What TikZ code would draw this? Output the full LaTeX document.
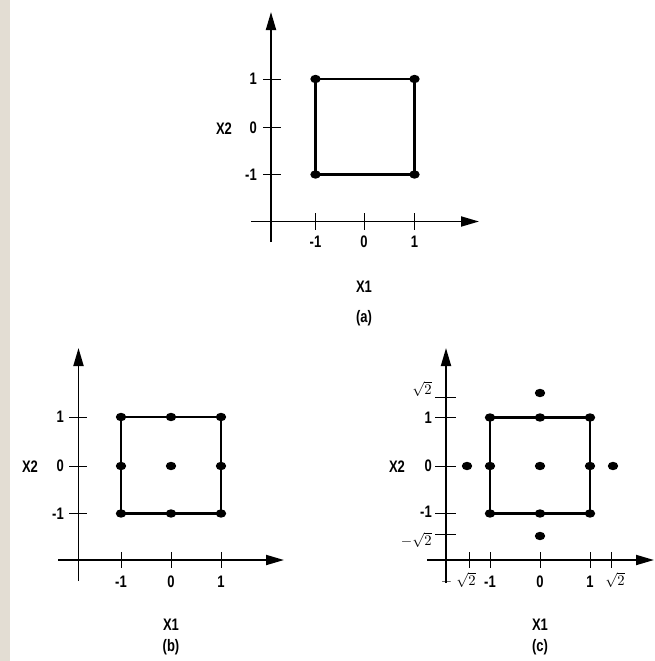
\documentclass[tikz,border=0pt]{standalone}
\usepackage{fontspec}
\usetikzlibrary{arrows.meta,shapes.geometric}
\newfontfamily\lblfont{Liberation Sans}[FakeStretch=0.78]
\definecolor{strip}{RGB}{227,221,211}
\tikzset{
  axis/.style={line width=1.4pt, -{Triangle[length=13.5pt,width=7.5pt]}},
  tick/.style={line width=0.7pt},
  sqline/.style={line width=1.6pt},
  dot/.style={ellipse, fill=black, inner sep=0pt, minimum width=7.8pt, minimum height=6.3pt},
  lbl/.style={font=\lblfont\bfseries\fontsize{12.5}{14}\selectfont, inner sep=0pt},
  ylbl/.style={lbl, anchor=east},
  mlbl/.style={inner sep=0pt, font=\fontsize{11}{13}\selectfont},
}
\begin{document}
\begin{tikzpicture}[x=0.75pt,y=-0.75pt]
\useasboundingbox (0,0) rectangle (655,661);
\fill[white] (0,0) rectangle (655,661);
\fill[strip] (0,0) rectangle (10,661);

% ---------------- panel (a) ----------------
\coordinate (ayb) at (271,242); \coordinate (ayt) at (271,12);
\coordinate (axl) at (251,221.5); \coordinate (axr) at (479,221.5);
\draw[axis] (ayb) -- (ayt);
\draw[axis] (axl) -- (axr);
\foreach \x/\t [count=\i] in {315.5/-1,364/0,414.5/1}{
  \draw[tick] (\x,213) -- (\x,229.5);
  \node[lbl] (axt\i) at (\x,242) {\t};
}
\foreach \y/\t [count=\i] in {79/1,127.5/0,174.5/-1}{
  \draw[tick] (263,\y) -- (281,\y);
  \node[ylbl] (ayt\i) at (257,\y) {\t};
}
\node[lbl] (ax2) at (224,129) {X2};
\node[lbl] (ax1) at (364,287) {X1};
\node[lbl] (acap) at (364,318) {(a)};
\node[dot] (a1) at (315.5,79) {};
\node[dot] (a2) at (414.5,79) {};
\node[dot] (a3) at (414.5,174.5) {};
\node[dot] (a4) at (315.5,174.5) {};
\draw[sqline] (a1.center) -- (a2.center) -- (a3.center) -- (a4.center) -- cycle;

% ---------------- panel (b) ----------------
\coordinate (byb) at (78.5,581); \coordinate (byt) at (78.5,348);
\coordinate (bxl) at (58,560); \coordinate (bxr) at (284,560);
\draw[axis] (byb) -- (byt);
\draw[axis] (bxl) -- (bxr);
\foreach \x/\t [count=\i] in {121/-1,171/0,221/1}{
  \draw[tick] (\x,552) -- (\x,568);
  \node[lbl] (bxt\i) at (\x,582) {\t};
}
\foreach \y/\t [count=\i] in {417/1,466/0,513.5/-1}{
  \draw[tick] (69,\y) -- (87,\y);
  \node[ylbl] (byt\i) at (64,\y) {\t};
}
\node[lbl] (bx2) at (30,467) {X2};
\node[lbl] (bx1) at (171,625) {X1};
\node[lbl] (bcap) at (171,647) {(b)};
\foreach \x [count=\i] in {121,171,221}{
  \foreach \y [count=\j] in {417,466,513.5}{
    \node[dot] (b\i\j) at (\x,\y) {};
  }
}
\draw[sqline] (b11.center) -- (b31.center) -- (b33.center) -- (b13.center) -- cycle;

% ---------------- panel (c) ----------------
\coordinate (cyb) at (446,583); \coordinate (cyt) at (446,348);
\coordinate (cxl) at (427,560); \coordinate (cxr) at (654,560);
\draw[axis] (cyb) -- (cyt);
\draw[axis] (cxl) -- (cxr);
\foreach \x [count=\i] in {469,490,540,590,611.5}{
  \draw[tick] (\x,552) -- (\x,568);
}
\node[mlbl] (cxs1) at (466,580) {$\sqrt{2}$};
\node[mlbl] (cxm1) at (446.5,582) {$-$};
\node[lbl] (cxt2) at (490,582) {-1};
\node[lbl] (cxt3) at (540,582) {0};
\node[lbl] (cxt4) at (590,582) {1};
\node[mlbl] (cxt5) at (615,580) {$\sqrt{2}$};
\foreach \y [count=\i] in {397,417.5,466,513.5,534}{
  \draw[tick] (435,\y) -- (456,\y);
}
\node[mlbl, anchor=east] (cyt1) at (432,389) {$\sqrt{2}$};
\node[ylbl] (cyt2) at (432,417.5) {1};
\node[ylbl] (cyt3) at (432,466) {0};
\node[ylbl] (cyt4) at (432,512) {-1};
\node[mlbl, anchor=east] (cyt5) at (432,540) {$-\sqrt{2}$};
\node[lbl] (cx2) at (397,467) {X2};
\node[lbl] (cx1) at (540,625) {X1};
\node[lbl] (ccap) at (540,647) {(c)};
\foreach \x [count=\i] in {490,540,590}{
  \foreach \y [count=\j] in {417.5,466,513.5}{
    \node[dot] (c\i\j) at (\x,\y) {};
  }
}
\draw[sqline] (c11.center) -- (c31.center) -- (c33.center) -- (c13.center) -- cycle;
\node[dot] (ctop) at (540,393) {};
\node[dot] (cbot) at (540,536) {};
\node[dot] (cleft) at (467,466) {};
\node[dot] (cright) at (613,466) {};
\end{tikzpicture}
\end{document}
